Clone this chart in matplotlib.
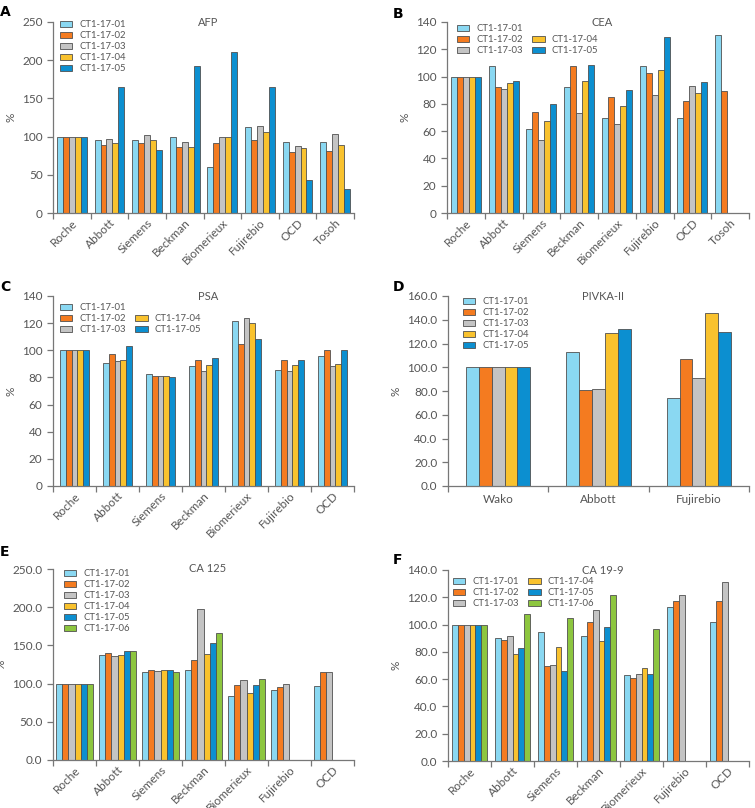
import matplotlib
matplotlib.use("Agg")
import matplotlib.pyplot as plt
from matplotlib.patches import Patch
import numpy as np

plt.rcParams['font.family'] = ['Lato', 'DejaVu Sans']

series5 = ["CT1-17-01", "CT1-17-02", "CT1-17-03", "CT1-17-04", "CT1-17-05"]
series6 = series5 + ["CT1-17-06"]
colors = ["#8ad8f2", "#f47b20", "#c4c4c4", "#f9c22e", "#0c8fd0", "#8dc63f"]

# A - AFP
afp_cats = ["Roche", "Abbott", "Siemens", "Beckman", "Biomerieux", "Fujirebio", "OCD", "Tosoh"]
afp_vals = [
    [100, 96, 96, 100, 60, 112, 93, 93],
    [100, 89, 91, 86, 91, 96, 80, 81],
    [100, 97, 102, 93, 100, 114, 88, 104],
    [100, 91, 96, 86, 100, 106, 85, 89],
    [100, 165, 82, 192, 211, 165, 43, 32],
]

# B - CEA
cea_cats = ["Roche", "Abbott", "Siemens", "Beckman", "Biomerieux", "Fujirebio", "OCD", "Tosoh"]
cea_vals = [
    [100, 108, 61.5, 92, 69.4, 108, 69.4, 130.7],
    [100, 92, 74.3, 108, 84.8, 102.5, 82, 89.5],
    [100, 91, 53.4, 73.5, 65.2, 86.8, 92.9, np.nan],
    [100, 95.4, 67.4, 97, 78.5, 104.7, 88, np.nan],
    [100, 96.8, 80, 108.4, 90.2, 129.2, 96, np.nan],
]

# C - PSA
psa_cats = ["Roche", "Abbott", "Siemens", "Beckman", "Biomerieux", "Fujirebio", "OCD"]
psa_vals = [
    [100, 90.8, 82.5, 88.3, 121.6, 85.2, 95.7],
    [100, 96.9, 81, 92.8, 104.5, 92.8, 99.9],
    [100, 92.3, 81, 84.7, 123.8, 84.7, 88.1],
    [100, 93, 81, 88.8, 120, 88.8, 89.8],
    [100, 103.3, 80, 94.5, 108, 92.5, 100],
]

# D - PIVKA-II
pivka_cats = ["Wako", "Abbott", "Fujirebio"]
pivka_vals = [
    [100, 112.7, 74.4],
    [100, 81.1, 107.1],
    [100, 82, 90.6],
    [100, 129, 145.7],
    [100, 132.6, 130],
]

# E - CA 125
ca125_cats = ["Roche", "Abbott", "Siemens", "Beckman", "Biomerieux", "Fujirebio", "OCD"]
ca125_vals = [
    [100, 137.9, 115.6, 117.4, 83.8, 92, 96.9],
    [100, 140.5, 117.4, 130.9, 97.7, 95.1, 115.6],
    [100, 136.1, 116.5, 198, 104.3, 99.9, 115.6],
    [100, 137.9, 117.4, 138.7, 88.1, np.nan, np.nan],
    [100, 142.2, 117.4, 153.1, 97.7, np.nan, np.nan],
    [100, 143.1, 115.6, 166.2, 106, np.nan, np.nan],
]

# F - CA 19-9
ca199_cats = ["Roche", "Abbott", "Siemens", "Beckman", "Biomerieux", "Fujirebio", "OCD"]
ca199_vals = [
    [100, 90.4, 94.8, 91.4, 62.8, 112.9, 102.1],
    [100, 88.9, 69.6, 102.1, 61.1, 117.3, 117.3],
    [100, 91.6, 70.4, 110.7, 63.8, 121.4, 131],
    [100, 78.2, 83.3, 87.7, 67.9, np.nan, np.nan],
    [100, 83.1, 66, 98, 63.8, np.nan, np.nan],
    [100, 108, 104.6, 121.9, 96.5, np.nan, np.nan],
]

W, H = 755, 808
fig = plt.figure(figsize=(W / 100, H / 100), dpi=100)
txt = "#555555"
axc = "#777777"


def panel(box, letter, lpos, title, cats, vals, names, ymax, ystep, fmt, group_w,
          leg=(7, 3), ncol=1, pad_blank=False, rot=45):
    l, t, r, b = box
    w, h = r - l, b - t
    ax = fig.add_axes([l / W, 1 - b / H, w / W, h / H])
    n = len(vals)
    x = np.arange(len(cats))
    bw = group_w / n
    handles = []
    for i, v in enumerate(vals):
        ax.bar(x - group_w / 2 + bw * (i + 0.5), v, bw, color=colors[i],
               edgecolor="#505050", linewidth=0.6, label=names[i])
        handles.append(Patch(facecolor=colors[i], edgecolor="#505050", linewidth=0.6))
    ax.set_xlim(-0.5, len(cats) - 0.5)
    ax.set_ylim(0, ymax)
    yt = np.arange(0, ymax + 0.1, ystep)
    ax.set_yticks(yt)
    ax.set_yticklabels([fmt.format(y) for y in yt])
    ax.set_xticks(x)
    if rot:
        ax.set_xticklabels(cats, rotation=rot, ha="right", rotation_mode="anchor")
    else:
        ax.set_xticklabels(cats)
    ax.set_xticks(np.arange(-0.5, len(cats)), minor=True)
    ax.tick_params(axis="x", which="major", length=0, pad=3 if rot else 6,
                   labelsize=8.5, colors=txt)
    ax.tick_params(axis="x", which="minor", length=4, width=0.9, color=axc, direction="out")
    ax.tick_params(axis="y", length=4, width=0.9, color=axc, labelsize=8.5, labelcolor=txt)
    for s in ["top", "right"]:
        ax.spines[s].set_visible(False)
    for s in ["left", "bottom"]:
        ax.spines[s].set_color(axc)
        ax.spines[s].set_linewidth(0.9)
    ax.set_ylabel("%", color=txt, fontsize=8.5)
    ax.text(0.515, 1.0, title, transform=ax.transAxes, ha="center", va="center",
            fontsize=8, color=txt)
    labels = list(names)
    if pad_blank:
        handles = handles[:3] + [Patch(alpha=0)] + handles[3:]
        labels = labels[:3] + [""] + labels[3:]
    dx, dy = leg
    ax.legend(handles, labels, loc="upper left",
              bbox_to_anchor=(dx / w, 1 - (dy - 5) / h), ncol=ncol,
              frameon=False, fontsize=6.8, labelcolor=txt, handlelength=1.3,
              handleheight=0.6, handletextpad=0.75, labelspacing=0.22,
              columnspacing=1.0, borderpad=0, borderaxespad=0)
    fig.text(lpos[0] / W, 1 - lpos[1] / H, letter, fontsize=10, fontweight="bold",
             family="DejaVu Sans", va="center", ha="left")
    return ax


panel((53, 22, 354, 213), "A", (0, 12), "AFP", afp_cats, afp_vals, series5,
      250, 50, "{:.0f}", 0.79, leg=(7, 3))
panel((447, 22, 749, 213), "B", (393, 14), "CEA", cea_cats, cea_vals, series5,
      140, 20, "{:.0f}", 0.8, leg=(10, 7), ncol=2, pad_blank=True)
panel((53, 296, 354, 486), "C", (0, 287), "PSA", psa_cats, psa_vals, series5,
      140, 20, "{:.0f}", 0.68, leg=(7, 12), ncol=2, pad_blank=True)
panel((448, 296, 749, 486), "D", (393, 287), "PIVKA-II", pivka_cats, pivka_vals, series5,
      160, 20, "{:.1f}", 0.64, leg=(15, 6), rot=0)
panel((53, 569, 354, 760), "E", (0, 552), "CA 125", ca125_cats, ca125_vals, series6,
      250, 50, "{:.1f}", 0.84, leg=(11, 5))
panel((448, 570, 749, 761), "F", (393, 560), "CA 19-9", ca199_cats, ca199_vals, series6,
      140, 20, "{:.1f}", 0.83, leg=(5, 12), ncol=2)

fig.savefig("out.png", dpi=100)
